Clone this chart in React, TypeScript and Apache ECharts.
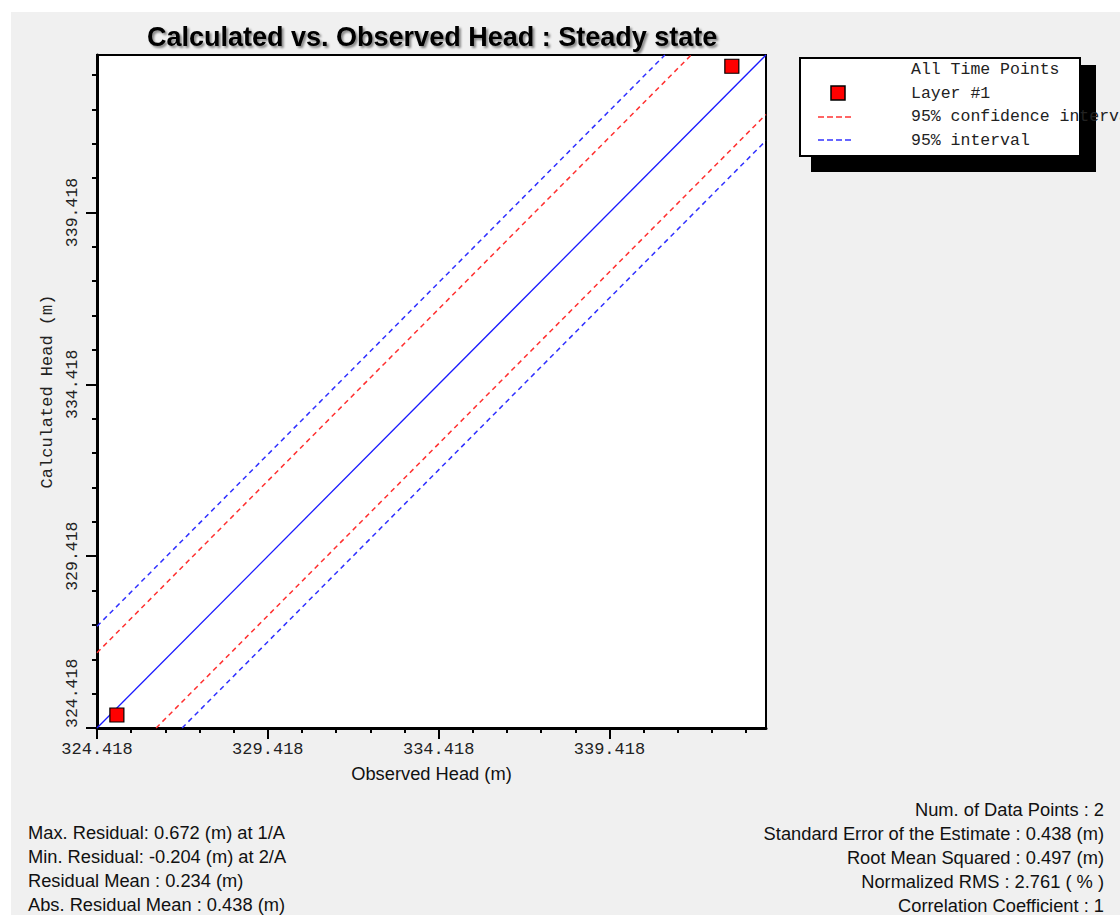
import React, { useEffect, useRef } from "react";
import * as echarts from "echarts";

// ---- data ----
const axisMin = 324.418;
const axisMax = 344.0;
const majorTicks = [324.418, 329.418, 334.418, 339.418];
const minorTicks = [
  325.418, 326.418, 327.418, 328.418, 330.418, 331.418, 332.418, 333.418,
  335.418, 336.418, 337.418, 338.418, 340.418, 341.418, 342.418, 343.418,
];
const pointNames = ["2/A", "1/A"];
const observedHead = [325.0, 343.0];
const calculatedHead = [324.796, 343.672];
const oneToOne = [[324.418, 324.418], [344.0, 344.0]];
const confUpper = [[324.418, 326.608], [341.81, 344.0]];
const confLower = [[326.148, 324.418], [344.0, 342.27]];
const intUpper = [[324.418, 327.378], [341.04, 344.0]];
const intLower = [[326.908, 324.418], [344.0, 341.51]];
const legendTitle = "All Time Points";
const legendNames = ["Layer #1", "95% confidence interval", "95% interval"];
const leftStats = [
  "Max. Residual: 0.672 (m) at 1/A",
  "Min. Residual: -0.204 (m) at 2/A",
  "Residual Mean : 0.234 (m)",
  "Abs. Residual Mean : 0.438 (m)",
];
const rightStats = [
  "Num. of Data Points : 2",
  "Standard Error of the Estimate : 0.438 (m)",
  "Root Mean Squared : 0.497 (m)",
  "Normalized RMS : 2.761 ( % )",
  "Correlation Coefficient : 1",
];

const MONO = "'Liberation Mono', 'DejaVu Sans Mono', monospace";
const SANS = "'Liberation Sans', Arial, sans-serif";

export default function App() {
  const ref = useRef<HTMLDivElement>(null);
  useEffect(() => {
    if (!ref.current) return;
    const chart = echarts.init(ref.current, null, { renderer: "svg" });
    const fmt = (v: number) => v.toFixed(3);
    const scatterData = observedHead.map((o, i) => ({
      name: pointNames[i],
      value: [o, calculatedHead[i]],
    }));
    const lineSeries = (name: string, data: number[][], color: string, dashed: boolean) => ({
      name,
      type: "line",
      data,
      symbol: "none",
      showSymbol: false,
      clip: false,
      silent: true,
      itemStyle: { color },
      lineStyle: { color, width: dashed ? 1.5 : 1.3, type: dashed ? [5, 4] : "solid", opacity: 1 },
      emphasis: { disabled: true },
      z: 2,
    });

    const graphics: any[] = [
      { type: "rect", shape: { x: 811, y: 65, width: 285, height: 107 }, style: { fill: "#000" } },
      { type: "rect", shape: { x: 800, y: 58, width: 280, height: 98 }, style: { fill: "#fff", stroke: "#000", lineWidth: 2 } },
      { type: "text", x: 911, y: 69, style: { text: legendTitle, font: `16.5px ${MONO}`, fill: "#222", verticalAlign: "middle" } },
      { type: "rect", shape: { x: 831, y: 86, width: 14, height: 14 }, style: { fill: "#ff0000", stroke: "#000", lineWidth: 1.5 } },
      { type: "line", shape: { x1: 818, y1: 117, x2: 852, y2: 117 }, style: { stroke: "#ff3333", lineWidth: 1.5, lineDash: [6, 3] } },
      { type: "line", shape: { x1: 818, y1: 140, x2: 852, y2: 140 }, style: { stroke: "#3333ff", lineWidth: 1.5, lineDash: [6, 3] } },
      ...legendNames.map((n, i) => ({
        type: "text",
        x: 911,
        y: 93 + i * 23.7,
        style: { text: n, font: `16.5px ${MONO}`, fill: "#222", verticalAlign: "middle" },
      })),
      ...leftStats.map((t, i) => ({
        type: "text",
        x: 28,
        y: 832 + i * 24,
        style: { text: t, font: `18.3px ${SANS}`, fill: "#111", verticalAlign: "middle" },
      })),
      ...rightStats.map((t, i) => ({
        type: "text",
        x: 1104,
        y: 809 + i * 24,
        style: { text: t, font: `18.3px ${SANS}`, fill: "#111", align: "right", verticalAlign: "middle" },
      })),
    ];

    const option: any = {
      animation: false,
      backgroundColor: "transparent",
      title: {
        text: "Calculated vs. Observed Head : Steady state",
        left: 142,
        top: 18,
        textStyle: {
          fontFamily: SANS,
          fontSize: 27,
          fontWeight: "bold",
          color: "#000",
          textShadowColor: "rgba(0,0,0,0.45)",
          textShadowBlur: 2,
          textShadowOffsetX: 2,
          textShadowOffsetY: 2,
        },
      },
      grid: {
        left: 97,
        top: 55,
        width: 669,
        height: 673,
        show: true,
        backgroundColor: "#fff",
        borderColor: "#000",
        borderWidth: 2,
        outerBoundsMode: "none",
      },
      xAxis: [
        {
          type: "value",
          min: axisMin,
          max: axisMax,
          position: "bottom",
          name: "Observed Head (m)",
          nameLocation: "middle",
          nameGap: 36,
          nameTextStyle: { fontFamily: SANS, fontSize: 18.3, color: "#111" },
          axisLine: { show: true, lineStyle: { color: "#000", width: 3 } },
          axisTick: { show: true, customValues: majorTicks, length: 11, lineStyle: { color: "#000", width: 2 } },
          axisLabel: { customValues: majorTicks, formatter: fmt, fontFamily: MONO, fontSize: 17, color: "#222", margin: 13 },
          splitLine: { show: false },
        },
        {
          type: "value",
          min: axisMin,
          max: axisMax,
          position: "bottom",
          axisLine: { show: false },
          axisTick: { show: true, customValues: minorTicks, length: 5, lineStyle: { color: "#000", width: 2 } },
          axisLabel: { show: false },
          splitLine: { show: false },
        },
      ],
      yAxis: [
        {
          type: "value",
          min: axisMin,
          max: axisMax,
          position: "left",
          name: "Calculated Head (m)",
          nameLocation: "middle",
          nameRotate: 90,
          nameGap: 35,
          nameTextStyle: { fontFamily: MONO, fontSize: 17, color: "#222" },
          axisLine: { show: true, lineStyle: { color: "#000", width: 3 } },
          axisTick: { show: true, customValues: majorTicks, length: 11, lineStyle: { color: "#000", width: 2 } },
          axisLabel: {
            customValues: majorTicks,
            formatter: fmt,
            rotate: 90,
            fontFamily: MONO,
            fontSize: 16.5,
            color: "#222",
            margin: 16,
            alignMinLabel: "left",
          },
          splitLine: { show: false },
        },
        {
          type: "value",
          min: axisMin,
          max: axisMax,
          position: "left",
          axisLine: { show: false },
          axisTick: { show: true, customValues: minorTicks, length: 5, lineStyle: { color: "#000", width: 2 } },
          axisLabel: { show: false },
          splitLine: { show: false },
        },
      ],
      series: [
        lineSeries("1:1", oneToOne, "#1a1aff", false),
        lineSeries(legendNames[1], confUpper, "#ff3030", true),
        lineSeries(legendNames[1] + " (lower)", confLower, "#ff3030", true),
        lineSeries(legendNames[2], intUpper, "#3030ff", true),
        lineSeries(legendNames[2] + " (lower)", intLower, "#3030ff", true),
        {
          name: legendNames[0],
          type: "scatter",
          data: scatterData,
          symbol: "rect",
          symbolSize: 14,
          itemStyle: { color: "#ff0000", borderColor: "#000", borderWidth: 1.2, opacity: 1 },
          z: 5,
        },
      ],
      graphic: graphics,
    };
    chart.setOption(option);
    return () => chart.dispose();
  }, []);

  return (
    <div style={{ position: "fixed", left: 0, top: 0, width: 1120, height: 915, background: "#fff" }}>
      <div style={{ position: "absolute", left: 11, top: 12, right: 0, bottom: 0, background: "#f0f0f0" }} />
      <div ref={ref} style={{ position: "absolute", left: 0, top: 0, width: 1120, height: 915 }} />
    </div>
  );
}
